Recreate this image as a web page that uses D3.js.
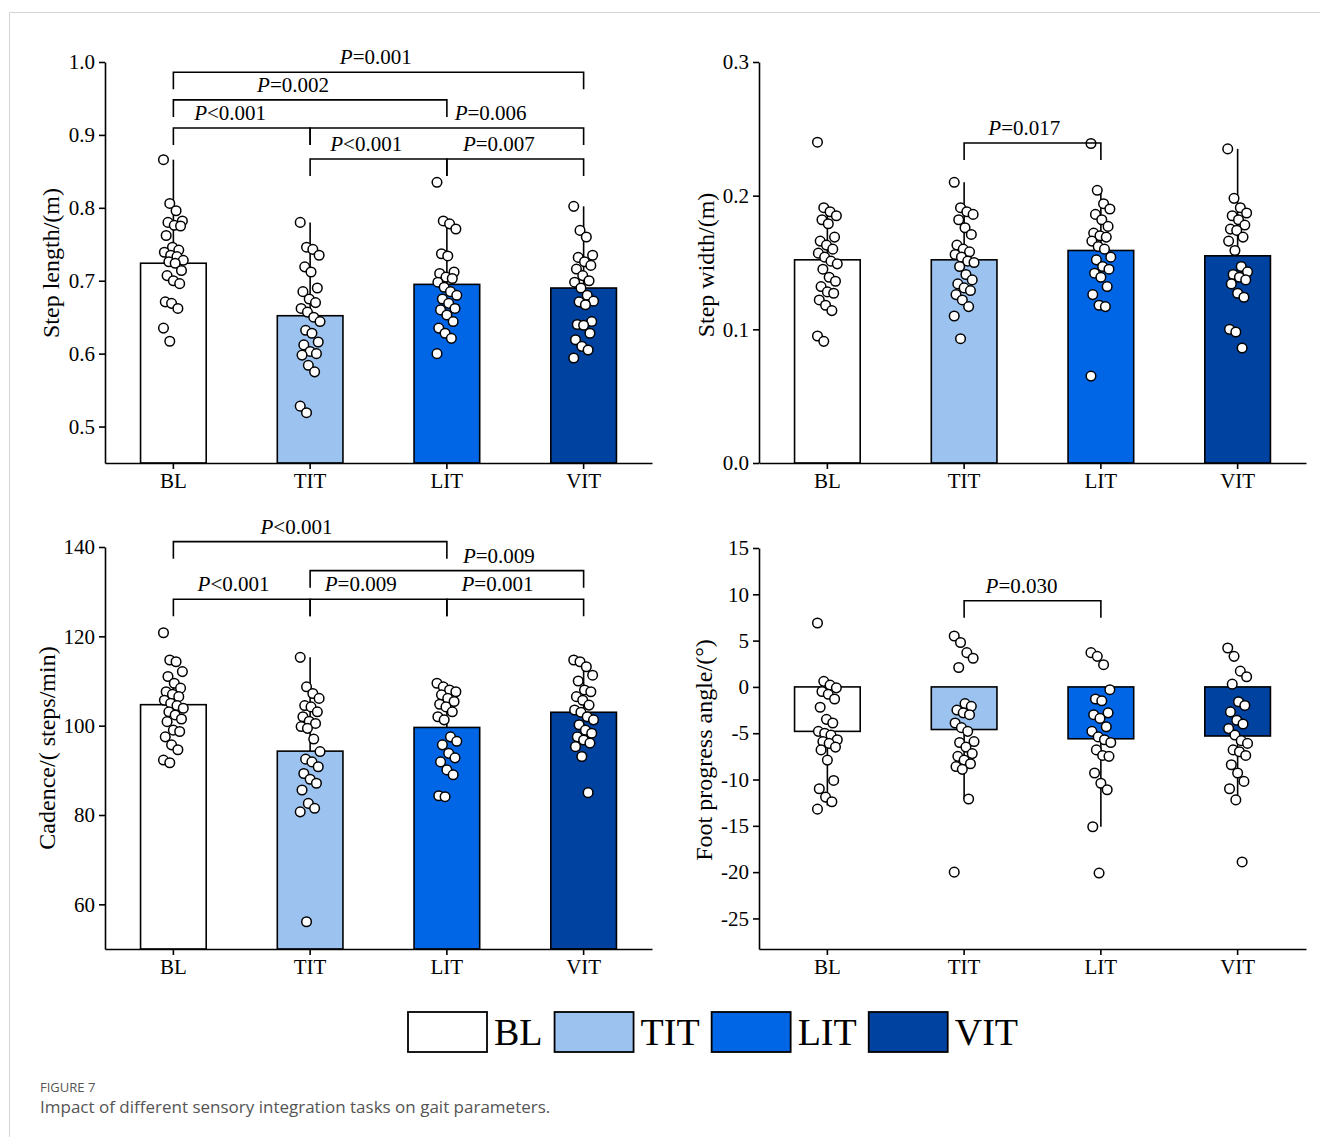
<!DOCTYPE html>
<html>
<head>
<meta charset="utf-8">
<title>Figure 7</title>
<script src="https://cdn.jsdelivr.net/npm/d3@7"></script>
<style>
  body { margin: 0; background: #fff; }
  svg text { font-family: "Liberation Serif", "Times New Roman", serif; }
</style>
</head>
<body>
<svg id="fig" width="1320" height="1137"></svg>
<script>
// ---- data ----
const groups = ["BL", "TIT", "LIT", "VIT"];
const colors = ["#ffffff", "#9cc3f0", "#0066e5", "#00429f"];

// step length (m)
const slMean = [0.724, 0.652, 0.695, 0.690];
const slErr = [0.866, 0.780, 0.785, 0.802];
const slTicks = [0.5, 0.6, 0.7, 0.8, 0.9, 1.0];
const slPoints = [
  [0.866,0.806,0.796,0.782,0.780,0.776,0.775,0.762,0.746,0.742,0.739,0.735,0.733,0.728,0.726,0.724,0.714,0.707,0.700,0.696,0.671,0.669,0.662,0.635,0.617],
  [0.780,0.746,0.743,0.735,0.719,0.712,0.690,0.685,0.675,0.670,0.662,0.657,0.650,0.644,0.632,0.628,0.616,0.612,0.603,0.600,0.598,0.584,0.575,0.528,0.519],
  [0.835,0.782,0.778,0.771,0.737,0.734,0.712,0.710,0.705,0.703,0.698,0.691,0.685,0.680,0.675,0.669,0.662,0.660,0.653,0.644,0.635,0.628,0.621,0.600],
  [0.802,0.769,0.760,0.735,0.732,0.726,0.721,0.716,0.707,0.700,0.698,0.690,0.680,0.672,0.671,0.667,0.644,0.640,0.639,0.628,0.619,0.610,0.605,0.594]
];
// [from, to, level, label, label position (category index)]
const slBrackets = [
  [0, 3, 0.986, "P=0.001", 1.48],
  [0, 2, 0.948, "P=0.002", 0.875],
  [0, 1, 0.9095, "P<0.001", 0.415],
  [1, 3, 0.9095, "P=0.006", 2.32],
  [1, 2, 0.867, "P<0.001", 1.41],
  [2, 3, 0.867, "P=0.007", 2.38]
];

// step width (m)
const swMean = [0.152, 0.152, 0.159, 0.155];
const swErr = [0.190, 0.210, 0.205, 0.235];
const swTicks = [0.0, 0.1, 0.2, 0.3];
const swPoints = [
  [0.240,0.191,0.188,0.185,0.182,0.179,0.169,0.166,0.163,0.160,0.157,0.154,0.151,0.149,0.145,0.139,0.136,0.132,0.128,0.127,0.122,0.118,0.114,0.095,0.091],
  [0.210,0.191,0.188,0.186,0.182,0.176,0.171,0.163,0.160,0.158,0.156,0.154,0.151,0.150,0.147,0.141,0.137,0.134,0.131,0.129,0.126,0.122,0.117,0.110,0.093],
  [0.239,0.204,0.194,0.190,0.186,0.182,0.177,0.172,0.170,0.169,0.166,0.162,0.160,0.154,0.152,0.147,0.145,0.142,0.139,0.132,0.126,0.118,0.117,0.065],
  [0.235,0.198,0.191,0.187,0.185,0.182,0.178,0.175,0.174,0.169,0.166,0.159,0.147,0.143,0.141,0.139,0.137,0.134,0.127,0.124,0.100,0.098,0.086]
];
const swBrackets = [
  [1, 2, 0.2394, "P=0.017", 1.44]
];

// cadence (steps/min)
const cdMean = [104.7, 94.3, 99.6, 103.0];
const cdErr = [110.0, 115.3, 109.5, 114.5];
const cdTicks = [60, 80, 100, 120, 140];
const cdPoints = [
  [120.8,114.7,114.3,112.1,111.0,109.5,108.4,107.6,107.0,106.5,105.7,105.0,104.5,103.9,103.1,102.4,101.5,100.9,99.0,98.7,97.5,95.7,94.6,92.3,91.7],
  [115.3,108.7,107.2,106.1,104.5,104.2,103.1,102.0,101.0,100.5,99.8,99.4,97.0,94.2,92.5,91.9,90.8,89.3,88.0,87.1,85.6,82.6,81.5,80.7,56.1],
  [109.5,108.7,108.0,107.6,106.9,106.1,105.4,104.8,104.2,103.1,102.0,101.3,97.5,96.5,95.7,93.8,92.8,91.9,90.1,89.0,84.3,84.1],
  [114.7,114.3,113.2,111.3,110.0,108.0,107.6,106.5,105.7,104.6,103.5,103.0,102.0,101.3,100.2,99.0,98.3,97.5,96.8,96.1,95.3,93.1,85.0]
];
const cdBrackets = [
  [0, 2, 141.2, "P<0.001", 0.90],
  [1, 3, 134.7, "P=0.009", 2.38],
  [0, 1, 128.3, "P<0.001", 0.44],
  [1, 2, 128.3, "P=0.009", 1.37],
  [2, 3, 128.3, "P=0.001", 2.37]
];

// foot progress angle (deg)
const fpMean = [-4.8, -4.6, -5.6, -5.3];
const fpErr = [-12.8, -12.1, -15.1, -12.2];
const fpTicks = [-25, -20, -15, -10, -5, 0, 5, 10, 15];
const fpPoints = [
  [6.9,0.6,0.2,-0.1,-0.5,-0.8,-1.3,-2.2,-3.5,-3.9,-4.8,-5.0,-5.2,-5.7,-5.9,-6.1,-6.5,-6.8,-7.9,-10.1,-11.0,-11.9,-12.4,-13.2],
  [5.5,4.8,3.7,3.1,2.1,-1.8,-2.1,-2.5,-2.8,-3.0,-3.9,-4.4,-4.8,-5.9,-6.0,-6.5,-7.2,-7.5,-7.9,-8.3,-8.6,-8.9,-12.1,-20.0],
  [3.7,3.3,2.4,-0.3,-1.3,-1.5,-2.8,-3.0,-3.4,-4.3,-4.8,-5.4,-5.7,-6.0,-6.8,-7.4,-7.5,-9.3,-10.4,-11.1,-15.1,-20.1],
  [4.2,3.3,1.7,1.1,0.3,-1.6,-2.0,-2.7,-3.6,-4.0,-4.5,-5.2,-5.8,-6.1,-6.8,-7.0,-7.4,-8.4,-9.3,-10.2,-11.0,-12.2,-18.9]
];
const fpBrackets = [
  [1, 2, 9.31, "P=0.030", 1.42]
];

// ---- drawing ----
const svg = d3.select("#fig");

// page frame (top and left edges only are visible)
svg.append("path")
  .attr("d", "M9.5,1137V12.5H1320")
  .attr("fill", "none").attr("stroke", "#d4d4d4").attr("stroke-width", 1);

// deterministic horizontal spread of the dots
const jit = i => ((i * 7) % 23 - 11) * 0.9;

const panels = [
  { left: 105, right: 652, top: 62, bottom: 463, domain: [0.45, 1.0], base: 0.45,
    means: slMean, err: slErr, pts: slPoints, ticks: slTicks, fmt: d3.format(".1f"),
    brackets: slBrackets, title: "Step length/(m)", tx: 51, ty: 263 },
  { left: 759, right: 1306, top: 62, bottom: 463, domain: [0, 0.3], base: 0,
    means: swMean, err: swErr, pts: swPoints, ticks: swTicks, fmt: d3.format(".1f"),
    brackets: swBrackets, title: "Step width/(m)", tx: 706, ty: 265 },
  { left: 105, right: 652, top: 547, bottom: 949, domain: [50, 140], base: 50,
    means: cdMean, err: cdErr, pts: cdPoints, ticks: cdTicks, fmt: d => String(d),
    brackets: cdBrackets, title: "Cadence/( steps/min)", tx: 47, ty: 748 },
  { left: 759, right: 1306, top: 548, bottom: 949, domain: [-28.3, 15], base: 0,
    means: fpMean, err: fpErr, pts: fpPoints, ticks: fpTicks, fmt: d => String(d),
    brackets: fpBrackets, title: "Foot progress angle/(°)", tx: 704, ty: 750 }
];

panels.forEach(p => {
  const g = svg.append("g");
  const x = d3.scaleBand().domain(groups).range([p.left, p.right])
    .paddingInner(0.52).paddingOuter(0.26);
  const y = d3.scaleLinear().domain(p.domain).range([p.bottom, p.top]);
  const cx = i => x(groups[0]) + x.bandwidth() / 2 + i * x.step();

  // bars
  g.selectAll("rect.bar").data(p.means).join("rect")
    .attr("class", "bar")
    .attr("x", (d, i) => x(groups[i]))
    .attr("width", x.bandwidth())
    .attr("y", d => Math.min(y(d), y(p.base)))
    .attr("height", d => Math.abs(y(d) - y(p.base)))
    .attr("fill", (d, i) => colors[i])
    .attr("stroke", "#000").attr("stroke-width", 1.6);

  // error whiskers
  g.selectAll("line.err").data(p.err).join("line")
    .attr("class", "err")
    .attr("x1", (d, i) => cx(i)).attr("x2", (d, i) => cx(i))
    .attr("y1", (d, i) => y(p.means[i])).attr("y2", d => y(d))
    .attr("stroke", "#000").attr("stroke-width", 1.6);

  // individual dots
  p.pts.forEach((arr, gi) => {
    g.append("g").selectAll("circle").data(arr).join("circle")
      .attr("cx", (d, i) => cx(gi) + jit(i))
      .attr("cy", d => y(d))
      .attr("r", 4.8)
      .attr("fill", "#fff").attr("stroke", "#000").attr("stroke-width", 1.5);
  });

  // axes
  const ya = g.append("g").attr("transform", `translate(${p.left},0)`)
    .call(d3.axisLeft(y).tickValues(p.ticks).tickFormat(p.fmt)
      .tickSize(6).tickSizeOuter(0).tickPadding(4));
  const xa = g.append("g").attr("transform", `translate(0,${p.bottom})`)
    .call(d3.axisBottom(x).tickSize(6).tickSizeOuter(0).tickPadding(4));
  [ya, xa].forEach(a => {
    a.attr("font-family", null).attr("font-size", null);
    a.selectAll("path, line").attr("stroke", "#000").attr("stroke-width", 1.6);
    a.selectAll("text").attr("fill", "#000").style("font-size", "21px");
  });

  // axis title
  g.append("text")
    .attr("transform", `translate(${p.tx},${p.ty}) rotate(-90)`)
    .attr("text-anchor", "middle").attr("dominant-baseline", "central")
    .style("font-size", "24px").attr("fill", "#000")
    .text(p.title);

  // significance brackets
  p.brackets.forEach(([a, b, lev, label, lpos]) => {
    const yy = y(lev);
    g.append("path")
      .attr("d", `M${cx(a)},${yy + 17}V${yy}H${cx(b)}V${yy + 17}`)
      .attr("fill", "none").attr("stroke", "#000").attr("stroke-width", 1.6);
    const t = g.append("text")
      .attr("x", cx(lpos)).attr("y", yy - 8)
      .attr("text-anchor", "middle").style("font-size", "21px").attr("fill", "#000");
    t.append("tspan").attr("font-style", "italic").text(label[0]);
    t.append("tspan").text(label.slice(1));
  });
});

// legend
const lg = svg.append("g");
let lx = 408;
groups.forEach((name, i) => {
  lg.append("rect")
    .attr("x", lx).attr("y", 1012).attr("width", 79).attr("height", 40)
    .attr("fill", colors[i]).attr("stroke", "#000").attr("stroke-width", 1.8);
  const t = lg.append("text")
    .attr("x", lx + 86).attr("y", 1045)
    .style("font-size", "38px").attr("fill", "#000")
    .text(name);
  lx += 86 + t.node().getComputedTextLength() + 12;
});

// caption
svg.append("text")
  .attr("x", 40).attr("y", 1092)
  .style("font-family", "'Open Sans', sans-serif").style("font-size", "13px")
  .attr("fill", "#555")
  .text("FIGURE 7");
svg.append("text")
  .attr("x", 40).attr("y", 1113)
  .style("font-family", "'Open Sans', sans-serif").style("font-size", "17px")
  .attr("fill", "#555")
  .text("Impact of different sensory integration tasks on gait parameters.");
</script>
</body>
</html>
